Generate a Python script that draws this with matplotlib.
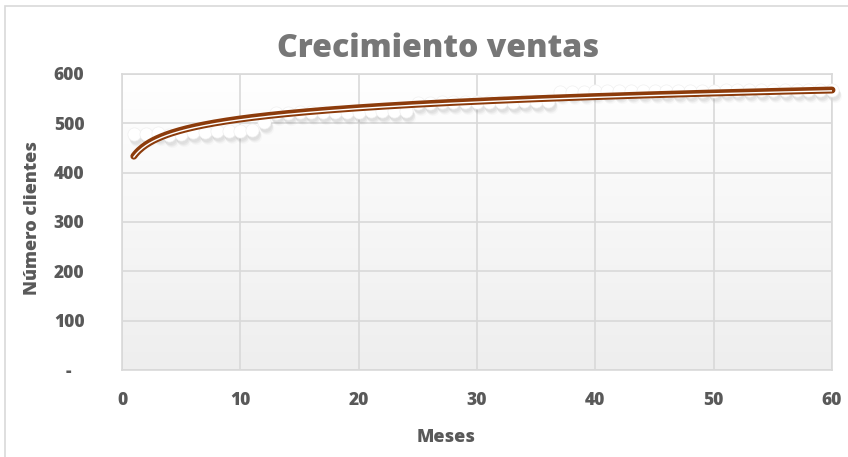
import matplotlib
matplotlib.use("Agg")
import matplotlib.pyplot as plt
import matplotlib.transforms as mtransforms
from matplotlib.colors import LinearSegmentedColormap
from matplotlib.patches import Rectangle
import numpy as np

plt.rcParams["font.family"] = ["Open Sans", "DejaVu Sans"]
W = 800  # heavy weight for all labels

# monthly customer counts
meses = list(range(1, 61))
clientes = [478, 479, 480, 477, 479, 482, 483, 484, 484, 485, 486, 503,
            521, 521, 522, 522, 522, 523, 523, 523, 524, 524, 524, 524,
            542, 542, 543, 543, 543, 543, 544, 544, 544, 545, 545, 545,
            564, 564, 564, 565, 565, 565, 565, 565, 566, 566, 566, 566,
            566, 566, 567, 567, 567, 567, 567, 567, 568, 568, 568, 568]

x_ticks = [0, 10, 20, 30, 40, 50, 60]
y_ticks = [0, 100, 200, 300, 400, 500, 600]
y_labels = ["-   ", "100", "200", "300", "400", "500", "600"]

TXT = "#595959"
GRID = "#d9d9d9"

fig = plt.figure(figsize=(8.48, 4.57), dpi=100)
fig.patch.set_facecolor("white")
fig.patches.append(Rectangle((5 / 848, -0.01), 1.0, 1 - 6 / 457 + 0.01,
                             transform=fig.transFigure, fill=False,
                             edgecolor=GRID, linewidth=1.2))

ax = fig.add_axes([122 / 848, 1 - 370 / 457, (832 - 122) / 848, (370 - 74) / 457])
ax.set_xlim(0, 60)
ax.set_ylim(0, 600)

# vertical white-to-grey fill behind the data
grad = np.linspace(1.0, 0.0, 256).reshape(-1, 1)
ax.imshow(grad, extent=[0, 1, 0, 1], transform=ax.transAxes, aspect="auto",
          cmap=LinearSegmentedColormap.from_list("bg", ["#eeeeee", "#ffffff"]),
          zorder=0)

ax.set_xticks(x_ticks)
ax.set_yticks(y_ticks)
ax.set_yticklabels(y_labels)
ax.grid(True, color=GRID, linewidth=1.2, zorder=1)
for sp in ax.spines.values():
    sp.set_edgecolor(GRID)
    sp.set_linewidth(1.2)
ax.tick_params(length=0, colors=TXT, labelsize=12.5)
ax.tick_params(axis="x", pad=16)
ax.tick_params(axis="y", pad=27)
for lbl in ax.get_xticklabels() + ax.get_yticklabels():
    lbl.set_fontweight(W)

# soft drop shadow under the markers
for dx, dy, a in [(1, -3, 0.08), (2, -4, 0.07), (2, -5, 0.05), (3, -6, 0.04)]:
    off = mtransforms.offset_copy(ax.transData, fig=fig, x=dx, y=dy, units="dots")
    ax.plot(meses, clientes, "o", color="#808080", markersize=9.5,
            markeredgewidth=0, alpha=a, transform=off, zorder=2, clip_on=False)
ax.plot(meses, clientes, "o", color="white", markersize=9.5,
        markeredgecolor="#f0f0f0", markeredgewidth=0.5, zorder=3, clip_on=False)

# logarithmic trend line fitted to the data
a, b = np.polyfit(np.log(meses), clientes, 1)
xs = np.linspace(1, 60, 400)
trend = a * np.log(xs) + b
ax.plot(xs, trend, color="#8c3b0b", linewidth=5, solid_capstyle="round",
        zorder=4, clip_on=False)
off = mtransforms.offset_copy(ax.transData, fig=fig, x=0, y=-0.8, units="dots")
ax.plot(xs, trend, color="white", linewidth=1.0, transform=off, zorder=5)

fig.text(438 / 848, 1 - 49 / 457, "Crecimiento ventas", ha="center", va="center",
         fontsize=23, fontweight=W, color="#777777")
fig.text(446 / 848, 1 - 438 / 457, "Meses", ha="center", va="center",
         fontsize=13, fontweight=W, color=TXT)
fig.text(33 / 848, 1 - 218 / 457, "Número clientes", ha="center", va="center",
         rotation=90, fontsize=13, fontweight=W, color=TXT)

fig.savefig("out.png", dpi=100)
